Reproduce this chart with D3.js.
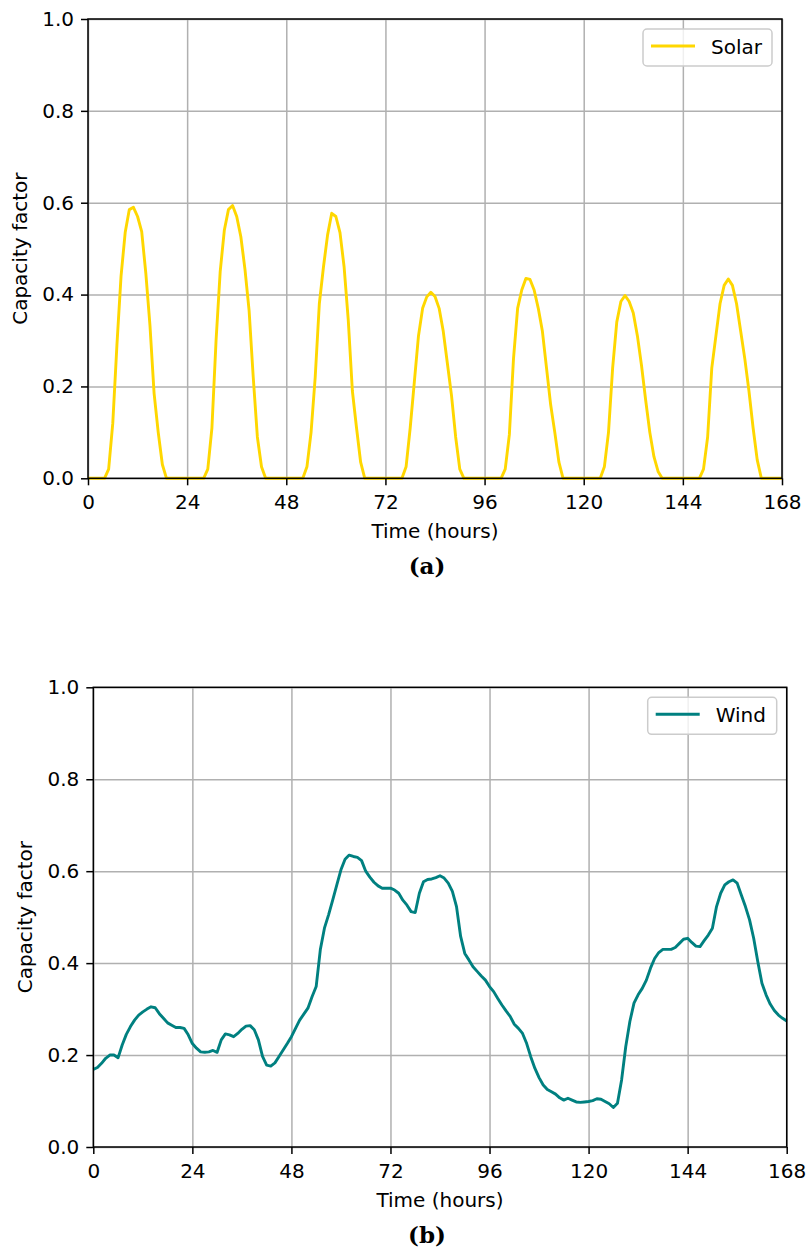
<!DOCTYPE html>
<html>
<head>
<meta charset="utf-8">
<script src="https://cdn.jsdelivr.net/npm/d3@7/dist/d3.min.js"></script>
<style>
  body { margin: 0; background: #fff; }
  svg text { font-family: "DejaVu Sans", sans-serif; fill: #000; }
</style>
</head>
<body>
<svg id="chart" width="806" height="1255"></svg>
<script>
// tick values shared by both panels
const xTicks = [0, 24, 48, 72, 96, 120, 144, 168];
const yTicks = [0, 0.2, 0.4, 0.6, 0.8, 1.0];

// hourly solar capacity factor, one row per day (hour 0..167) + hour 168
const solar = [
  0, 0, 0, 0, 0, 0.02, 0.12, 0.29, 0.44, 0.535, 0.585, 0.59, 0.57, 0.537, 0.446, 0.333, 0.185, 0.10, 0.03, 0, 0, 0, 0, 0,
  0, 0, 0, 0, 0, 0.02, 0.11, 0.30, 0.45, 0.54, 0.585, 0.594, 0.57, 0.526, 0.455, 0.365, 0.22, 0.09, 0.025, 0, 0, 0, 0, 0,
  0, 0, 0, 0, 0, 0.025, 0.10, 0.22, 0.38, 0.46, 0.53, 0.577, 0.57, 0.535, 0.46, 0.345, 0.19, 0.11, 0.035, 0, 0, 0, 0, 0,
  0, 0, 0, 0, 0, 0.025, 0.11, 0.21, 0.31, 0.37, 0.395, 0.405, 0.396, 0.37, 0.32, 0.25, 0.18, 0.09, 0.02, 0, 0, 0, 0, 0,
  0, 0, 0, 0, 0, 0.02, 0.095, 0.26, 0.37, 0.41, 0.435, 0.433, 0.41, 0.37, 0.32, 0.24, 0.16, 0.10, 0.035, 0, 0, 0, 0, 0,
  0, 0, 0, 0, 0, 0.025, 0.10, 0.24, 0.34, 0.385, 0.398, 0.385, 0.36, 0.31, 0.245, 0.17, 0.10, 0.047, 0.015, 0, 0, 0, 0, 0,
  0, 0, 0, 0, 0, 0.02, 0.09, 0.24, 0.31, 0.38, 0.42, 0.434, 0.42, 0.38, 0.32, 0.26, 0.19, 0.11, 0.04, 0, 0, 0, 0, 0,
  0
];

// hourly wind capacity factor (hour 0..168)
const wind = [
  0.169, 0.173, 0.182, 0.193, 0.200, 0.200, 0.194, 0.222, 0.245, 0.262, 0.276, 0.287,
  0.294, 0.300, 0.305, 0.303, 0.290, 0.280, 0.270, 0.265, 0.260, 0.260, 0.258, 0.244,
  0.225, 0.215, 0.207, 0.206, 0.207, 0.210, 0.206, 0.233, 0.246, 0.244, 0.240, 0.247,
  0.256, 0.263, 0.264, 0.255, 0.233, 0.197, 0.178, 0.176, 0.183, 0.197, 0.211, 0.225,
  0.240, 0.258, 0.276, 0.289, 0.302, 0.327, 0.349, 0.429, 0.476, 0.505, 0.537, 0.570,
  0.603, 0.626, 0.635, 0.632, 0.630, 0.623, 0.600, 0.587, 0.576, 0.568, 0.563, 0.563,
  0.563, 0.559, 0.552, 0.537, 0.526, 0.512, 0.510, 0.552, 0.577, 0.582, 0.583, 0.586,
  0.590, 0.585, 0.574, 0.556, 0.523, 0.458, 0.421, 0.407, 0.392, 0.382, 0.372, 0.363,
  0.349, 0.338, 0.323, 0.309, 0.296, 0.284, 0.267, 0.258, 0.247, 0.225, 0.196, 0.171,
  0.151, 0.135, 0.125, 0.120, 0.115, 0.107, 0.102, 0.106, 0.102, 0.098, 0.097, 0.098,
  0.099, 0.101, 0.105, 0.104, 0.099, 0.094, 0.086, 0.095, 0.146, 0.218, 0.273, 0.313,
  0.331, 0.345, 0.363, 0.389, 0.410, 0.423, 0.430, 0.430, 0.430, 0.434, 0.443, 0.452,
  0.454, 0.445, 0.437, 0.436, 0.449, 0.461, 0.476, 0.523, 0.552, 0.570, 0.577, 0.581,
  0.574, 0.548, 0.523, 0.494, 0.454, 0.403, 0.356, 0.331, 0.311, 0.297, 0.287, 0.280,
  0.274
];

const svg = d3.select('#chart');

const panels = [
  { values: solar, name: 'Solar', color: '#ffd700', caption: '(a)', left: 88, right: 782, top: 19, bottom: 478.3 },
  { values: wind, name: 'Wind', color: '#008080', caption: '(b)', left: 93.3, right: 786.7, top: 687.3, bottom: 1147 },
];

panels.forEach((p) => {
  const x = d3.scaleLinear().domain([0, 168]).range([p.left, p.right]);
  const y = d3.scaleLinear().domain([0, 1]).range([p.bottom, p.top]);
  const g = svg.append('g');

  // grid
  g.append('g')
    .attr('transform', `translate(0,${p.bottom})`)
    .call(d3.axisBottom(x).tickValues(xTicks).tickSize(-(p.bottom - p.top)).tickFormat(''))
    .call((a) => a.select('.domain').remove())
    .call((a) => a.selectAll('line').attr('stroke', '#b0b0b0').attr('stroke-width', 1.5));
  g.append('g')
    .attr('transform', `translate(${p.left},0)`)
    .call(d3.axisLeft(y).tickValues(yTicks).tickSize(-(p.right - p.left)).tickFormat(''))
    .call((a) => a.select('.domain').remove())
    .call((a) => a.selectAll('line').attr('stroke', '#b0b0b0').attr('stroke-width', 1.5));

  // data line
  g.append('path')
    .datum(p.values)
    .attr('fill', 'none')
    .attr('stroke', p.color)
    .attr('stroke-width', 2.9)
    .attr('stroke-linejoin', 'round')
    .attr('d', d3.line().x((d, i) => x(i)).y((d) => y(d)));

  // axes
  g.append('g')
    .attr('transform', `translate(0,${p.bottom})`)
    .call(d3.axisBottom(x).tickValues(xTicks).tickSize(7).tickPadding(9.5))
    .call((a) => a.select('.domain').remove())
    .call((a) => a.selectAll('line').attr('stroke', '#000').attr('stroke-width', 1.5))
    .call((a) => a.selectAll('text').attr('font-size', 20).attr('font-family', 'DejaVu Sans'));
  g.append('g')
    .attr('transform', `translate(${p.left},0)`)
    .call(d3.axisLeft(y).tickValues(yTicks).tickSize(7).tickPadding(7).tickFormat(d3.format('.1f')))
    .call((a) => a.select('.domain').remove())
    .call((a) => a.selectAll('line').attr('stroke', '#000').attr('stroke-width', 1.5))
    .call((a) => a.selectAll('text').attr('font-size', 20).attr('font-family', 'DejaVu Sans'));

  // spines
  g.append('rect')
    .attr('x', p.left).attr('y', p.top)
    .attr('width', p.right - p.left).attr('height', p.bottom - p.top)
    .attr('fill', 'none').attr('stroke', '#000').attr('stroke-width', 1.5);

  // labels
  g.append('text')
    .attr('transform', `translate(${p.left - 61},${(p.top + p.bottom) / 2}) rotate(-90)`)
    .attr('text-anchor', 'middle').attr('font-size', 20)
    .text('Capacity factor');
  g.append('text')
    .attr('x', (p.left + p.right) / 2).attr('y', p.bottom + 59.5)
    .attr('text-anchor', 'middle').attr('font-size', 20)
    .text('Time (hours)');
  g.append('text')
    .attr('x', 427).attr('y', p.bottom + 96)
    .attr('text-anchor', 'middle').attr('font-size', 23)
    .attr('font-weight', 'bold').style('font-family', '"DejaVu Serif", serif')
    .text(p.caption);

  // legend
  const lx = p.right - 139;
  const ly = p.top + 10;
  const leg = g.append('g').attr('transform', `translate(${lx},${ly})`);
  leg.append('rect')
    .attr('width', 129).attr('height', 37).attr('rx', 4)
    .attr('fill', '#fff').attr('fill-opacity', 0.8)
    .attr('stroke', '#cccccc').attr('stroke-width', 1.5);
  leg.append('line')
    .attr('x1', 8).attr('x2', 52).attr('y1', 17).attr('y2', 17)
    .attr('stroke', p.color).attr('stroke-width', 2.9);
  leg.append('text')
    .attr('x', 68).attr('y', 25).attr('font-size', 20)
    .text(p.name);
});
</script>
</body>
</html>
